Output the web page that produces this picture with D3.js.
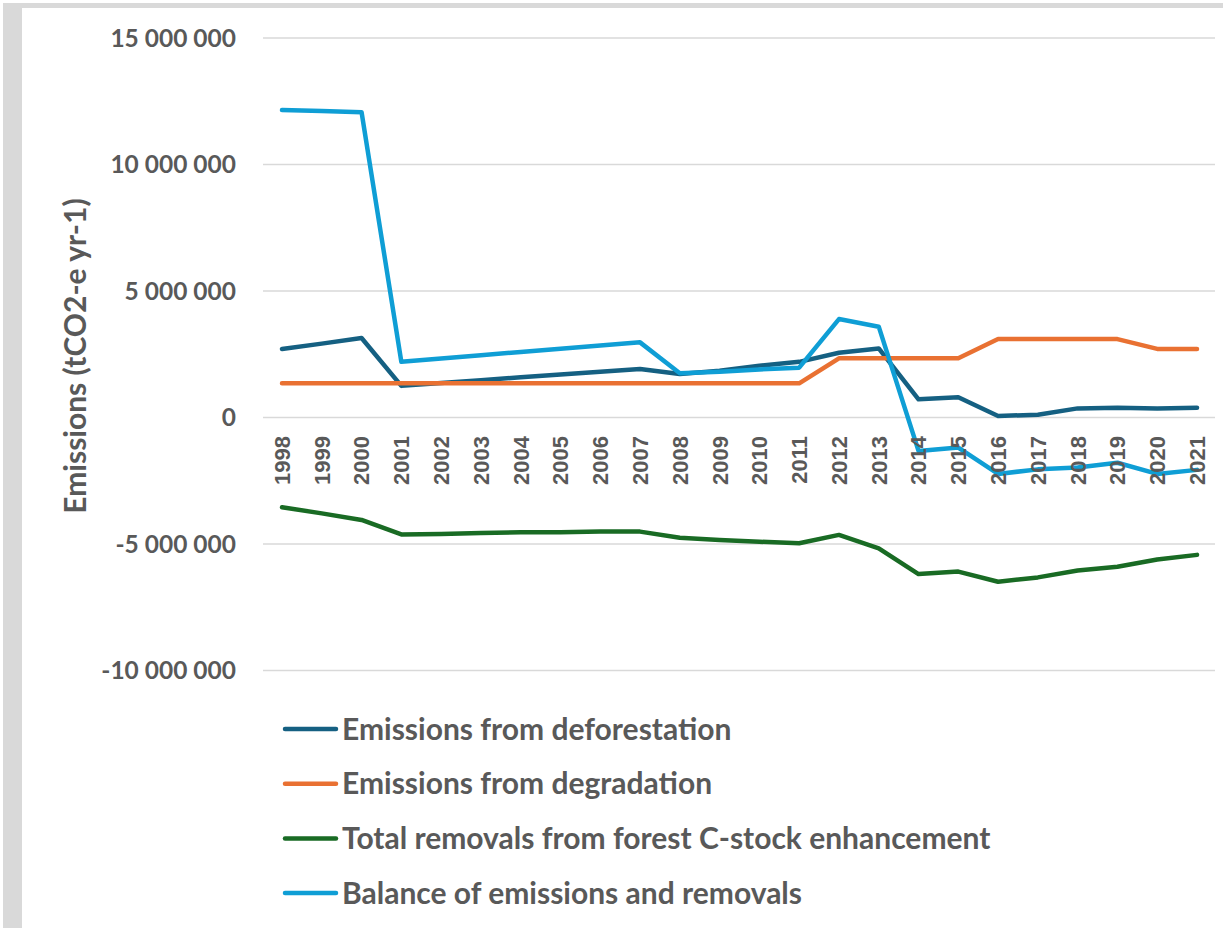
<!DOCTYPE html>
<html><head><meta charset="utf-8">
<script src="https://cdn.jsdelivr.net/npm/d3@7"></script>
<style>
html,body{margin:0;padding:0;background:#fff;}
svg{display:block;}
</style></head>
<body>
<svg id="chart" width="1223" height="928"></svg>
<script>
const years = ["1998","1999","2000","2001","2002","2003","2004","2005","2006","2007","2008","2009","2010","2011","2012","2013","2014","2015","2016","2017","2018","2019","2020","2021"];
const deforestation = [2710000,2920000,3140000,1250000,1360000,1470000,1590000,1700000,1810000,1920000,1720000,1850000,2050000,2200000,2560000,2730000,720000,800000,60000,110000,360000,390000,360000,390000];
const degradation = [1350000,1350000,1350000,1350000,1350000,1350000,1350000,1350000,1350000,1350000,1350000,1350000,1350000,1350000,2340000,2340000,2340000,2340000,3100000,3100000,3100000,3100000,2710000,2710000];
const removals = [-3550000,-3790000,-4050000,-4620000,-4600000,-4570000,-4540000,-4540000,-4510000,-4510000,-4750000,-4840000,-4910000,-4970000,-4640000,-5170000,-6190000,-6090000,-6490000,-6320000,-6050000,-5900000,-5610000,-5430000];
const balance = [12150000,12110000,12070000,2200000,2330000,2460000,2590000,2720000,2850000,2970000,1750000,1810000,1900000,1970000,3890000,3590000,-1320000,-1190000,-2230000,-2050000,-1980000,-1790000,-2230000,-2070000];
const yTicks = [15000000,10000000,5000000,0,-5000000,-10000000];
const seriesNames = ["Emissions from deforestation","Emissions from degradation","Total removals from forest C-stock enhancement","Balance of emissions and removals"];
const seriesColors = ["#156082","#E97132","#196B24","#0F9ED5"];
const seriesData = [deforestation, degradation, removals, balance];
const yTitle = "Emissions (tCO2-e yr-1)";

const svg = d3.select("#chart");
const textColor = "#595959";

// frame
svg.append("rect").attr("x",3).attr("y",3).attr("width",1220).attr("height",5).attr("fill","#d9d9d9");
svg.append("rect").attr("x",3).attr("y",3).attr("width",19).attr("height",925).attr("fill","#d9d9d9");

const x = d3.scalePoint().domain(years).range([282,1197]);
const y = d3.scaleLinear().domain([-10000000,15000000]).range([670.5,38]);

const fmt = v => d3.format(",")(v).replace(/,/g," ").replace("\u2212","-");

// gridlines
svg.append("g").selectAll("line").data(yTicks).join("line")
  .attr("x1",263).attr("x2",1215)
  .attr("y1",d=>y(d)).attr("y2",d=>y(d))
  .attr("stroke","#d9d9d9").attr("stroke-width",1.5);

// y tick labels
svg.append("g").selectAll("text").data(yTicks).join("text")
  .attr("x",236).attr("y",d=>y(d)).attr("dy","0.35em")
  .attr("text-anchor","end")
  .attr("font-family","Lato").attr("font-weight","bold").attr("font-size",24.5)
  .attr("fill",textColor).text(d=>fmt(d));

// y title
svg.append("text")
  .attr("transform","translate(86,356) rotate(-90)")
  .attr("text-anchor","middle")
  .attr("font-family","Lato").attr("font-weight","bold").attr("font-size",30)
  .attr("fill",textColor).text(yTitle);

// lines
const line = d3.line().x((d,i)=>x(years[i])).y(d=>y(d));
svg.append("g").selectAll("path").data(seriesData).join("path")
  .attr("d",d=>line(d)).attr("fill","none")
  .attr("stroke",(d,i)=>seriesColors[i]).attr("stroke-width",4.5)
  .attr("stroke-linejoin","round").attr("stroke-linecap","round");

// x tick labels
svg.append("g").selectAll("text").data(years).join("text")
  .attr("transform",d=>`translate(${x(d)},436) rotate(-90)`)
  .attr("text-anchor","end").attr("dy","0.36em")
  .attr("font-family","Liberation Sans").attr("font-weight","bold").attr("font-size",22)
  .attr("fill",textColor).text(d=>d);

// legend
const lg = svg.append("g").selectAll("g").data(seriesNames).join("g")
  .attr("transform",(d,i)=>`translate(0,${729+i*54.7})`);
lg.append("line").attr("x1",285).attr("x2",336).attr("y1",0).attr("y2",0)
  .attr("stroke",(d,i)=>seriesColors[i]).attr("stroke-width",4.5).attr("stroke-linecap","round");
lg.append("text").attr("x",342).attr("y",0).attr("dy","0.35em")
  .attr("font-family","Lato").attr("font-weight","bold").attr("font-size",30)
  .attr("fill",textColor).text(d=>d);
</script>
</body></html>
